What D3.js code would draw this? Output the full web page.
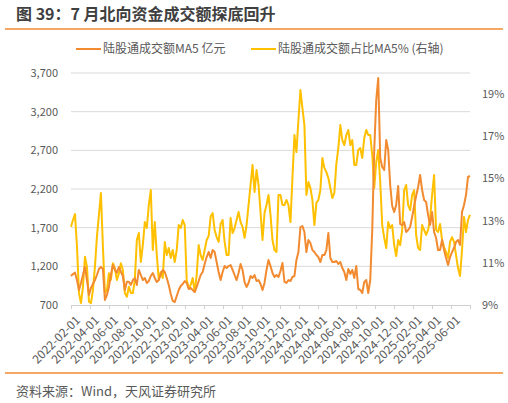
<!DOCTYPE html>
<html>
<head>
<meta charset="utf-8">
<script src="https://cdn.jsdelivr.net/npm/d3@7"></script>
<style>
  body { margin: 0; background: #fff; }
  text { font-family: "Noto Sans CJK SC", "Noto Sans", sans-serif; }
</style>
</head>
<body>
<div id="chart"></div>
<script>
// 横轴标签（每两个月一个刻度）
var tickLabels = ["2022-02-01", "2022-04-01", "2022-06-01", "2022-08-01", "2022-10-01", "2022-12-01",
                  "2023-02-01", "2023-04-01", "2023-06-01", "2023-08-01", "2023-10-01", "2023-12-01",
                  "2024-02-01", "2024-04-01", "2024-06-01", "2024-08-01", "2024-10-01", "2024-12-01",
                  "2025-02-01", "2025-04-01", "2025-06-01"];

// 陆股通成交额MA5（亿元），左轴
var amount = [1075,1100,1118,1023,894,985,1088,1191,1023,830,
              920,972,1023,1088,1165,1191,1165,765,830,933,
              1088,1217,1153,1118,1191,1130,1075,894,1001,1001,
              959,1023,1045,959,1153,1088,1023,1049,985,1010,
              1075,1114,1049,997,1023,1101,1153,1127,1049,959,
              842,752,739,816,894,946,972,1010,985,907,
              920,894,868,933,1010,1088,1127,1230,1320,1385,
              1308,1411,1385,1256,1127,1023,1127,1204,1178,1204,
              1217,1153,1088,1023,1114,1230,1153,997,933,985,
              1075,1049,1088,1010,1023,972,894,985,1153,1282,
              1204,1114,1062,1088,1062,1140,1243,1000,985,1023,
              1010,1062,1075,1282,1385,1708,1721,1644,1385,1540,
              1502,1411,1385,1346,1320,1256,1346,1346,1411,1631,
              1308,1256,1256,1269,1230,1256,1178,1127,1023,1166,
              1101,1153,1049,1204,907,894,855,997,1023,855,
              1023,1670,2704,3351,3635,2601,2484,2445,2834,2704,
              2252,1980,1902,1993,2239,1747,1734,1773,1644,1670,
              1708,1838,1980,2109,2226,2381,2187,2058,2032,1864,
              1734,1902,1644,1566,1411,1411,1540,1411,1308,1217,
              1320,1385,1437,1515,1540,1476,1902,1993,2122,2355,
              2368];

// 陆股通成交额占比MA5（%），右轴
var share = [12.71,13.03,13.31,11.76,9.55,9.09,9.87,11.29,10.82,9.16,
             9.09,9.71,10.82,12.24,13.27,14.31,11.76,9.57,9.71,10.5,
             10.19,10.98,10.74,10.19,10.5,10.98,10.66,9.57,9.39,9.87,
             9.57,9.57,10.19,12.08,12.41,11.04,11.84,12.93,12.65,13.74,
             14.45,11.61,12.93,11.37,10.19,10.56,10.28,11.99,11.37,11.7,
             11.23,11.61,11.04,11.61,12.79,12.65,13.03,12.79,10.19,9.81,
             9.95,10.28,9.62,10.42,11.84,11.37,11.13,11.61,12.08,12.27,
             13.19,13.36,12.56,12.22,11.99,12.84,13.03,11.99,11.37,11.37,
             13.12,12.41,12.65,13.03,13.41,12.93,12.7,12.18,12.79,13.74,
             14.69,15.64,14.36,15.4,14.69,13.41,12.08,13.36,13.74,14.22,
             13.27,12.08,11.61,11.51,14.22,14.22,13.74,13.74,13.98,13.74,
             12.93,15.02,17.06,16.25,17.77,19.19,18.34,17.53,14.22,14.83,
             14.55,13.98,12.79,13.84,13.98,14.45,15.97,15.5,15.3,15.02,
             14.55,14.07,14.31,15.69,16.44,17.53,16.82,16.58,17.06,17.3,
             16.58,16.82,15.64,15.64,16.35,16.44,15.97,16.92,17.3,17.06,
             17.06,16.11,14.55,15.78,16.35,14.83,12.79,12.18,11.7,12.93,
             12.65,12.79,11.84,11.32,12.08,11.84,12.56,14.45,14.69,13.74,
             13.5,14.22,14.45,12.32,11.7,11.61,12.79,12.56,12.32,12.56,
             13.12,14.22,15.16,12.56,12.46,12.84,12.08,11.75,11.51,11.23,
             11.99,12.22,11.99,11.37,10.75,10.37,11.61,13.17,12.46,13.03,
             13.27];

var leftTicks = [700, 1200, 1700, 2200, 2700, 3200, 3700];
var rightTicks = [9, 11, 13, 15, 17, 19];

var width = 508,
    height = 403,
    margin = {top: 73, right: 38, bottom: 98, left: 71},
    orange = "#f28a30",
    gold = "#ffc000",
    textGray = "#595959";

var innerW = width - margin.left - margin.right,
    innerH = height - margin.top - margin.bottom;

var svg = d3.select("#chart").append("svg")
  .attr("width", width)
  .attr("height", height);

// 标题
svg.append("text")
  .attr("x", 16)
  .attr("y", 20)
  .attr("font-size", 16)
  .attr("font-weight", "bold")
  .attr("fill", "#3f3f3f")
  .text("图 39：7 月北向资金成交额探底回升");

svg.append("line")
  .attr("x1", 5).attr("x2", 503)
  .attr("y1", 29).attr("y2", 29)
  .attr("stroke", orange)
  .attr("stroke-width", 1.5);

// 图例
var legend = [
  {name: "陆股通成交额MA5 亿元", color: orange, x: 76},
  {name: "陆股通成交额占比MA5% (右轴)", color: gold, x: 251}
];
var lg = svg.selectAll("g.legend").data(legend).enter().append("g")
  .attr("class", "legend")
  .attr("transform", function(d) { return "translate(" + d.x + ",49)"; });
lg.append("line")
  .attr("x1", 0).attr("x2", 25)
  .attr("stroke", function(d) { return d.color; })
  .attr("stroke-width", 2);
lg.append("text")
  .attr("x", 27)
  .attr("dy", "0.36em")
  .attr("font-size", 12)
  .attr("fill", textGray)
  .text(function(d) { return d.name; });

var g = svg.append("g")
  .attr("transform", "translate(" + margin.left + "," + margin.top + ")");

var x = d3.scaleLinear().domain([0, amount.length - 1]).range([0, innerW]);
var xTick = d3.scalePoint().domain(d3.range(tickLabels.length + 1)).range([0, innerW]);
var yL = d3.scaleLinear().domain([700, 3700]).range([innerH, 0]);
var yR = d3.scaleLinear().domain([9, 20]).range([innerH, 0]);

// 网格线
g.selectAll("line.grid").data(leftTicks.slice(1)).enter().append("line")
  .attr("class", "grid")
  .attr("x1", 0).attr("x2", innerW)
  .attr("y1", yL).attr("y2", yL)
  .attr("stroke", "#d9d9d9")
  .attr("stroke-width", 1);

// 左轴
var axL = g.append("g")
  .call(d3.axisLeft(yL).tickValues(leftTicks).tickSize(0).tickPadding(13).tickFormat(d3.format(",")));
axL.select(".domain").remove();
axL.selectAll("text").attr("font-size", 11).attr("fill", textGray).attr("font-family", null);

// 右轴
var axR = g.append("g")
  .attr("transform", "translate(" + innerW + ",0)")
  .call(d3.axisRight(yR).tickValues(rightTicks).tickSize(0).tickPadding(12).tickFormat(function(d) { return d + "%"; }));
axR.select(".domain").remove();
axR.selectAll("text").attr("font-size", 11).attr("fill", textGray).attr("font-family", null);

// 横轴
var axB = g.append("g")
  .attr("transform", "translate(0," + innerH + ")")
  .call(d3.axisBottom(xTick).tickSize(4).tickFormat(""));
axB.select(".domain").attr("stroke", "#d0d0d0");
axB.selectAll(".tick line").attr("stroke", "#d0d0d0");

g.append("g").selectAll("text").data(tickLabels).enter().append("text")
  .attr("transform", function(d, i) { return "translate(" + (xTick(i) + 7) + "," + (innerH + 13) + ") rotate(-45)"; })
  .attr("text-anchor", "end")
  .attr("dy", "0.35em")
  .attr("font-size", 12)
  .attr("fill", textGray)
  .text(function(d) { return d; });

// 折线
var lineR = d3.line()
  .x(function(d, i) { return x(i); })
  .y(function(d) { return yR(d); });
var lineL = d3.line()
  .x(function(d, i) { return x(i); })
  .y(function(d) { return yL(d); });

g.append("path")
  .datum(share)
  .attr("fill", "none")
  .attr("stroke", gold)
  .attr("stroke-width", 2)
  .attr("stroke-linejoin", "round")
  .attr("d", lineR);

g.append("path")
  .datum(amount)
  .attr("fill", "none")
  .attr("stroke", orange)
  .attr("stroke-width", 2)
  .attr("stroke-linejoin", "round")
  .attr("d", lineL);

// 底部
svg.append("line")
  .attr("x1", 5).attr("x2", 503)
  .attr("y1", 373).attr("y2", 373)
  .attr("stroke", orange)
  .attr("stroke-width", 1.5);

svg.append("text")
  .attr("x", 16)
  .attr("y", 396)
  .attr("font-size", 13)
  .attr("fill", textGray)
  .text("资料来源：Wind，天风证券研究所");
</script>
</body>
</html>
